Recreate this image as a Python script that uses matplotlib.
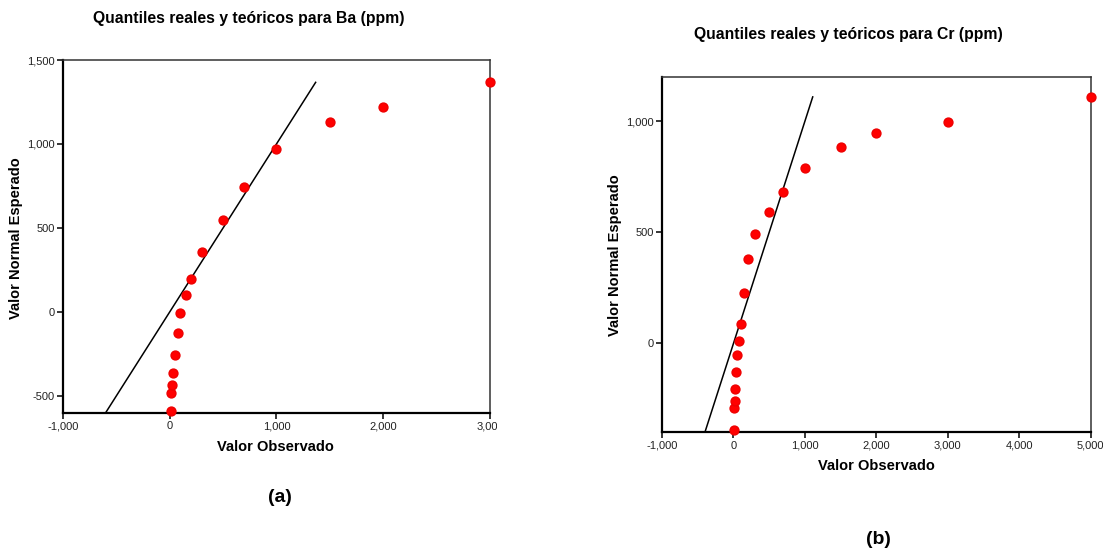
import matplotlib
matplotlib.use("Agg")
import matplotlib.pyplot as plt
from matplotlib.ticker import FuncFormatter
from matplotlib.patches import Rectangle

plt.rcParams['font.family'] = ['Liberation Sans', 'DejaVu Sans']

# Data: Ba (ppm)
ba_obs = [10, 15, 20, 30, 50, 75, 100, 150, 200, 300, 500, 700, 1000, 1500, 2000, 3000]
ba_exp = [-591, -484, -433, -363, -256, -125, -6, 99, 198, 359, 548, 744, 970, 1131, 1218, 1367]
# Data: Cr (ppm)
cr_obs = [5, 10, 15, 20, 30, 50, 75, 100, 150, 200, 300, 500, 700, 1000, 1500, 2000, 3000, 5000]
cr_exp = [-390, -291, -259, -206, -127, -52, 10, 87, 227, 380, 493, 593, 683, 789, 885, 945, 994, 1109]

titles = ["Quantiles reales y teóricos para Ba (ppm)", "Quantiles reales y teóricos para Cr (ppm)"]
xlabel = "Valor Observado"
ylabel = "Valor Normal Esperado"
panel_labels = ["(a)", "(b)"]

fig = plt.figure(figsize=(11.03, 5.52), dpi=100)

fmt = FuncFormatter(lambda v, p: f"{int(v):,}")

def style(ax):
    for s in ['left', 'bottom']:
        ax.spines[s].set_linewidth(1.6)
        ax.spines[s].set_color('black')
    for s in ['top', 'right']:
        ax.spines[s].set_linewidth(1.1)
        ax.spines[s].set_color('#333333')
    ax.tick_params(axis='both', direction='out', length=4, width=1.1, labelsize=8,
                   labelcolor='#222222', top=False, right=False, pad=2)
    ax.xaxis.set_major_formatter(fmt)
    ax.yaxis.set_major_formatter(fmt)

# Left panel
ax1 = fig.add_axes([0.0571, 0.2524, 0.3871, 0.6389])
ax1.set_xlim(-1000, 3000)
ax1.set_ylim(-600, 1500)
ax1.set_xticks([-1000, 0, 1000, 2000, 3000])
ax1.set_yticks([-500, 0, 500, 1000, 1500])
lo, hi = -600, max(ba_exp)
ax1.plot([lo, hi], [lo, hi], color='black', lw=1.1, zorder=2)
ax1.plot(ba_obs, ba_exp, 'o', color='#ff0000', ms=6.4, mec='#ee0000', zorder=3, clip_on=False)
style(ax1)

# Right panel
ax2 = fig.add_axes([0.6002, 0.2168, 0.3887, 0.6443])
ax2.set_xlim(-1000, 5000)
ax2.set_ylim(-400, 1200)
ax2.set_xticks([-1000, 0, 1000, 2000, 3000, 4000, 5000])
ax2.set_yticks([0, 500, 1000])
lo, hi = -400, max(cr_exp)
ax2.plot([lo, hi], [lo, hi], color='black', lw=1.1, zorder=2)
ax2.plot(cr_obs, cr_exp, 'o', color='#ff0000', ms=6.4, mec='#ee0000', zorder=3, clip_on=False)
style(ax2)

W, H = 1103.0, 552.0
def ft(x, y, s, size, **kw):
    fig.text(x / W, 1 - y / H, s, fontsize=size, fontweight='bold', ha='center', va='center', **kw)

ft(249, 18, titles[0], 11.3)
ft(848, 35, titles[1], 11.3)
ft(275, 447, xlabel, 10.5)
ft(876, 466, xlabel, 10.5)
ft(280, 497, panel_labels[0], 14)
ft(878, 540, panel_labels[1], 14)

fig.text(16 / W, 1 - 238 / H, ylabel, fontsize=10.5, fontweight='bold', rotation=90, ha='center', va='center')
fig.text(615 / W, 1 - 255 / H, ylabel, fontsize=10.5, fontweight='bold', rotation=90, ha='center', va='center')

# left panel image edge (cuts the last tick label)
fig.patches.append(Rectangle((497 / W, 0.0), (600 - 497) / W, 1 - 414 / H, transform=fig.transFigure,
                             facecolor='white', edgecolor='none', zorder=10))

fig.savefig("out.png", dpi=100, facecolor='white')
